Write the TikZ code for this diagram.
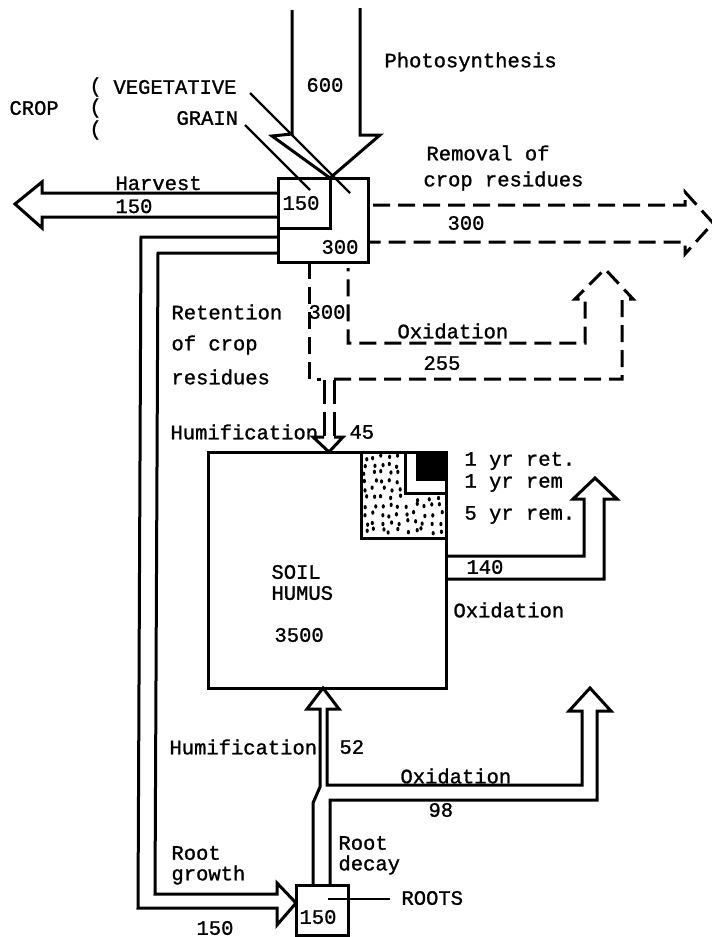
\documentclass[tikz,border=0pt]{standalone}
\usepackage{fontspec}
\setmainfont[FakeBold=1.2]{Liberation Mono}
\begin{document}
\begin{tikzpicture}[x=1pt,y=-1pt,line width=3pt,line join=miter,
  font=\fontsize{20.5}{22}\selectfont,
  lab/.style={inner sep=0pt,anchor=west},
  labc/.style={inner sep=0pt},
  dsh/.style={dash pattern=on 17pt off 8pt},
  blk/.style={draw,inner sep=0pt,outer sep=0pt,anchor=north west},
  lead/.style={line width=2.2pt}]
\useasboundingbox (0,0) rectangle (712,937);
% ---------- nodes ----------
\node[blk,minimum width=90pt,minimum height=84pt] (crop) at (278,178) {};
\node[blk,minimum width=52pt,minimum height=50pt] (grain) at (278,178) {};
\node[blk,minimum width=238pt,minimum height=236pt] (soil) at (208,452) {};
\node[blk,minimum width=52pt,minimum height=50pt] (roots) at (296,885) {};
% ---------- photosynthesis ----------
\coordinate (ptip) at (330,178);
\draw (292,10) -- (292,134) -- (272,136) -- (ptip) -- (380,135) -- (360,135) -- (360,8);
\node[lab] (photo) at (383,62) {Photosynthesis};
\node[lab] (n600) at (305,85) {600};
% crop labels
\node[lab] (cropl) at (8,108) {CROP};
\node[lab] (p1) at (88,87) {(};
\node[lab] (p2) at (88,108) {(};
\node[lab] (p3) at (88,130) {(};
\node[lab] (veg) at (112,87) {VEGETATIVE};
\node[lab] (grainl) at (175,118) {GRAIN};
\draw[lead] (250,93) -- (350,193);
\draw[lead] (245,125) -- (310,190);
\node[labc] (g150) at (301,203) {150};
\node[labc] (c300) at (340,247) {300};
% ---------- harvest ----------
\draw (crop.west |- 0,193) -- (42,193) -- (42,182) -- (15,204) -- (42,228) -- (42,217) -- (crop.west |- 0,217);
\node[inner sep=0pt,anchor=base west] (harv) at (114,190) {Harvest};
\node[inner sep=0pt,anchor=base west] (h150) at (114,213) {150};
% ---------- root growth (retention loop) ----------
\coordinate (rgtip) at (roots.west |- 0,903);
\draw (crop.west |- 0,237) -- (141,237) -- (138,908) -- (277,908) -- (277,925) -- (rgtip)
  -- (277,883) -- (277,894) -- (155,894) -- (158,253) -- (crop.west |- 0,253);
\node[lab] (ret1) at (170,312) {Retention};
\node[lab] (ret2) at (170,345) {of crop};
\node[lab] (ret3) at (170,377) {residues};
\node[lab] (rg1) at (170,853) {Root};
\node[lab] (rg2) at (170,875) {growth};
\node[labc] (rg150) at (215,928) {150};
% ---------- removal of crop residues ----------
\draw[dsh] (crop.east |- 0,205) ++(5,0) -- (685,205) -- (685,192) -- (713,223) -- (685,254) -- (685,242) -- (crop.east |- 0,242);
\node[lab] (rem1) at (425,153) {Removal of};
\node[lab] (rem2) at (422,181) {crop residues};
\node[labc] (rem300) at (466,223) {300};
% ---------- retention dashed / oxidation 255 ----------
\draw[dsh] (crop.south -| 309,0) -- (309,379) -- (321,379);
\draw[dsh] (334,379) -- (622,379) -- (622,299) -- (633,299) -- (605,269) -- (575,299) -- (585,299) -- (585,343) -- (348,343) -- (348,268);
\node[labc] (r300) at (327,312) {300};
\node[lab] (ox1) at (396,331) {Oxidation};
\node[labc] (ox255) at (442,363) {255};
% ---------- humification 45 ----------
\coordinate (h45tip) at (soil.north -| 329,0);
\draw[dash pattern=on 24pt off 8pt] (324,380) -- (324,437);
\draw[dash pattern=on 24pt off 8pt] (334,380) -- (334,437);
\draw (324,437) -- (313,437) -- (h45tip) -- (343,437) -- (334,437);
\node[lab] (hum1) at (169,432) {Humification};
\node[lab] (n45) at (348,432) {45};
% ---------- soil humus ----------
\pgfmathsetseed{11}
\fill[white] (361,452) rectangle (446,538);
\foreach \gx in {0,...,9}{
  \foreach \gy in {0,...,9}{
    \pgfmathsetmacro{\xx}{366+8.2*\gx+5*rnd-2.5}
    \pgfmathsetmacro{\yy}{457+8.2*\gy+5*rnd-2.5}
    \pgfmathparse{(\xx>401 && \yy<497) ? 0 : 1}
    \ifnum\pgfmathresult=1
      \fill (\xx,\yy) ellipse (1.6pt and 2.2pt);
    \fi
  }
}
\draw (361,452) rectangle (446,538);
\draw[fill=white] (405,452) rectangle (446,493);
\fill (416,452) rectangle (446,481);
\draw (soil.north west) rectangle (soil.south east);
\node[lab] (y1) at (463,461) {1 yr ret.};
\node[lab] (y2) at (463,483) {1 yr rem};
\node[lab] (y5) at (463,515) {5 yr rem.};
\node[lab] (soil1) at (270,572) {SOIL};
\node[lab] (soil2) at (270,593) {HUMUS};
\node[lab] (soil3) at (273,635) {3500};
% ---------- oxidation 140 ----------
\draw (soil.east |- 0,556) -- (584,556) -- (584,499) -- (573,499) -- (595,478) -- (617,499) -- (604,499) -- (604,579) -- (soil.east |- 0,579);
\node[lab] (n140) at (465,567) {140};
\node[lab] (ox2) at (452,610) {Oxidation};
% ---------- root decay ----------
\coordinate (h52tip) at (soil.south -| 323,0);
\draw (roots.north -| 313,0) -- (313,803) -- (320,787) -- (320,709) -- (307,709) -- (h52tip)
  -- (339,709) -- (327,709) -- (327,785) -- (582,785) -- (582,711) -- (569,711) -- (590,688)
  -- (611,711) -- (597,711) -- (597,800) -- (330,800) -- (roots.north -| 330,0);
\node[lab] (hum2) at (168,747) {Humification};
\node[lab] (n52) at (338,747) {52};
\node[lab] (ox3) at (399,776) {Oxidation};
\node[lab] (n98) at (427,810) {98};
\node[lab] (rd1) at (337,843) {Root};
\node[lab] (rd2) at (337,865) {decay};
\node[labc] (r150) at (318,917) {150};
\draw[lead] (328,899) -- (390,899);
\node[lab] (rootsl) at (400,898) {ROOTS};
\end{tikzpicture}
\end{document}
